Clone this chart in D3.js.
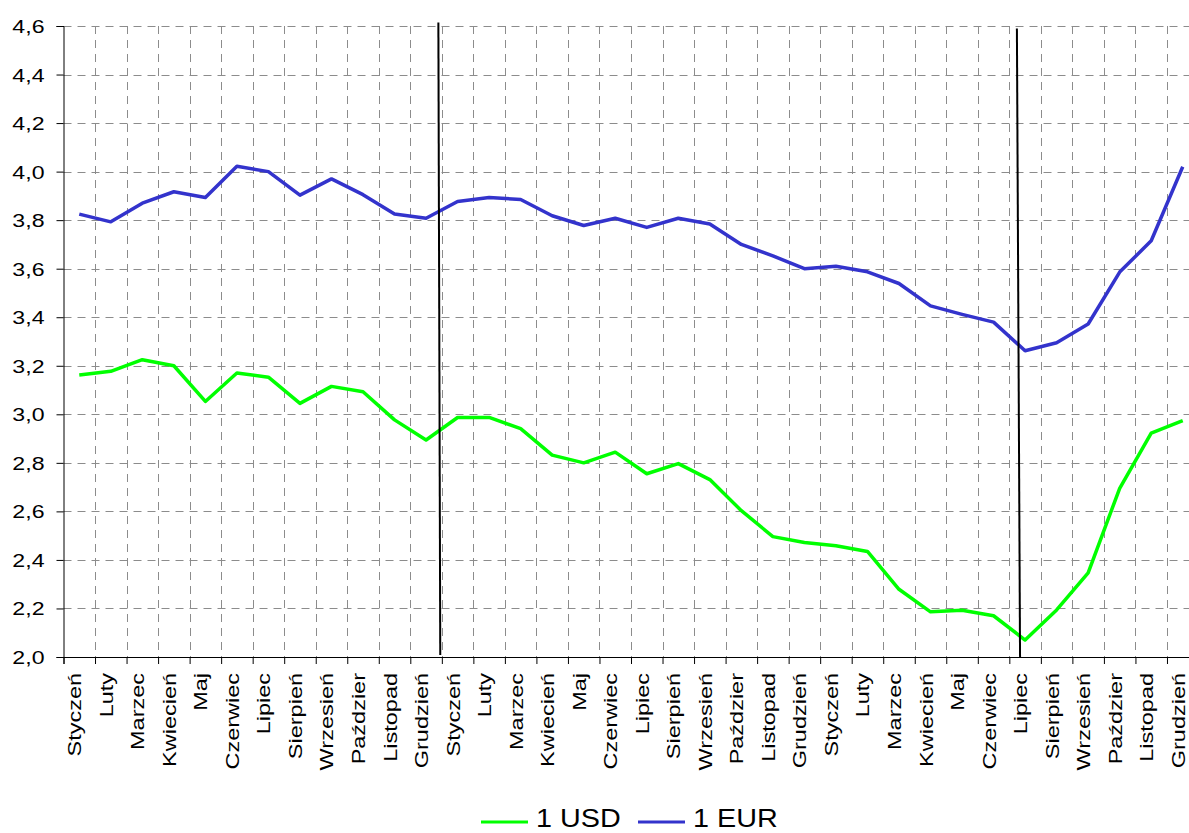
<!DOCTYPE html>
<html>
<head>
<meta charset="utf-8">
<script src="https://cdn.jsdelivr.net/npm/d3@7"></script>
<style>
  html, body { margin: 0; padding: 0; background: #fff; }
  svg { display: block; }
  text { font-family: "Liberation Sans", Arial, sans-serif; fill: #000; }
</style>
</head>
<body>
<svg id="chart" width="1189" height="833"></svg>
<script>
// ---- data ----
const months = ["Styczeń","Luty","Marzec","Kwiecień","Maj","Czerwiec","Lipiec","Sierpień","Wrzesień","Paździer","Listopad","Grudzień"];
const categories = [].concat(months, months, months);
const usd = [3.162,3.177,3.225,3.200,3.053,3.170,3.153,3.045,3.115,3.093,2.977,2.894,
             2.987,2.987,2.941,2.832,2.800,2.844,2.755,2.797,2.731,2.603,2.496,2.472,
             2.458,2.435,2.279,2.186,2.193,2.170,2.070,2.194,2.347,2.695,2.922,2.974];
const eur = [3.825,3.793,3.870,3.917,3.893,4.022,4.000,3.903,3.970,3.905,3.825,3.808,
             3.877,3.893,3.885,3.818,3.778,3.808,3.770,3.808,3.784,3.700,3.653,3.600,
             3.610,3.587,3.539,3.447,3.412,3.380,3.262,3.295,3.372,3.586,3.715,4.020];
const yTicks = [2.0,2.2,2.4,2.6,2.8,3.0,3.2,3.4,3.6,3.8,4.0,4.2,4.4,4.6];
// year separator lines, in category-index units (start/end) and value units
const separators = [
  {i0: 11.89, v0: 4.614, i1: 11.95, v1: 2.008},
  {i0: 30.24, v0: 4.590, i1: 30.34, v1: 2.000}
];
const seriesNames = ["1 USD", "1 EUR"];
const seriesColors = ["#00ff00", "#3333cc"];

// ---- layout ----
const pLeft = 63.5, pRight = 1198.5, pTop = 26, pBottom = 657;
const svg = d3.select("#chart");

const x = d3.scaleBand().domain(d3.range(categories.length)).range([pLeft, pRight]).padding(0);
const xLin = d3.scaleLinear().domain([0, categories.length]).range([pLeft, pRight]);
const y = d3.scaleLinear().domain([2.0, 4.6]).range([pBottom, pTop]);
const cx = i => x(i) + x.bandwidth() / 2;

// gridlines
const grid = svg.append("g");
grid.selectAll("line.h").data(yTicks.slice(1)).join("line")
  .attr("x1", pLeft).attr("x2", pRight)
  .attr("y1", d => Math.round(y(d)) + 0.5).attr("y2", d => Math.round(y(d)) + 0.5)
  .attr("stroke", "#8c8c8c").attr("stroke-width", 1).attr("stroke-dasharray", "8,6");
grid.selectAll("line.v").data(d3.range(1, categories.length)).join("line")
  .attr("x1", d => Math.round(xLin(d)) + 0.5).attr("x2", d => Math.round(xLin(d)) + 0.5)
  .attr("y1", pTop).attr("y2", pBottom)
  .attr("stroke", "#8c8c8c").attr("stroke-width", 1).attr("stroke-dasharray", "8,6");

// y axis
const yAxis = svg.append("g").attr("transform", `translate(${pLeft},0)`)
  .call(d3.axisLeft(y).tickValues(yTicks).tickSize(7).tickFormat(d => d.toFixed(1).replace(".", ",")));
yAxis.select(".domain").attr("stroke", "#000");
yAxis.selectAll(".tick line").attr("stroke", "#000");
yAxis.selectAll(".tick text").remove();
yAxis.selectAll(".tick").append("text")
  .attr("text-anchor", "end")
  .attr("transform", "translate(-19,0) scale(1.25,1)")
  .attr("dy", "0.35em")
  .style("font-size", "18.5px")
  .text(d => d.toFixed(1).replace(".", ","));

// x axis
const xAxis = svg.append("g").attr("transform", `translate(0,${pBottom})`)
  .call(d3.axisBottom(xLin).tickValues(d3.range(0, categories.length + 1)).tickSize(7).tickFormat(""));
xAxis.select(".domain").attr("stroke", "#000");
xAxis.selectAll(".tick line").attr("stroke", "#000");

svg.append("g").selectAll("text").data(categories).join("text")
  .attr("transform", (d, i) => `translate(${cx(i) + 2},${pBottom + 16}) rotate(-90) scale(1.27,1)`)
  .attr("text-anchor", "end")
  .attr("dy", "0em")
  .style("font-size", "18.5px")
  .text(d => d);

// series lines
const line = d3.line().x((d, i) => cx(i)).y(d => y(d));
[usd, eur].forEach((s, k) => {
  svg.append("path").datum(s)
    .attr("d", line)
    .attr("fill", "none")
    .attr("stroke", seriesColors[k])
    .attr("stroke-width", 3.5)
    .attr("stroke-linejoin", "round");
});

// separators
svg.append("g").selectAll("line").data(separators).join("line")
  .attr("x1", d => xLin(d.i0)).attr("y1", d => y(d.v0))
  .attr("x2", d => xLin(d.i1)).attr("y2", d => y(d.v1))
  .attr("stroke", "#000").attr("stroke-width", 2);

// legend
const legendX = [481, 638];
const lg = svg.append("g");
seriesNames.forEach((name, k) => {
  lg.append("line")
    .attr("x1", legendX[k]).attr("x2", legendX[k] + 47)
    .attr("y1", 822).attr("y2", 822)
    .attr("stroke", seriesColors[k]).attr("stroke-width", 3);
  lg.append("text")
    .attr("transform", `translate(${legendX[k] + 55},827) scale(1.15,1)`)
    .style("font-size", "25px")
    .text(name);
});
</script>
</body>
</html>
